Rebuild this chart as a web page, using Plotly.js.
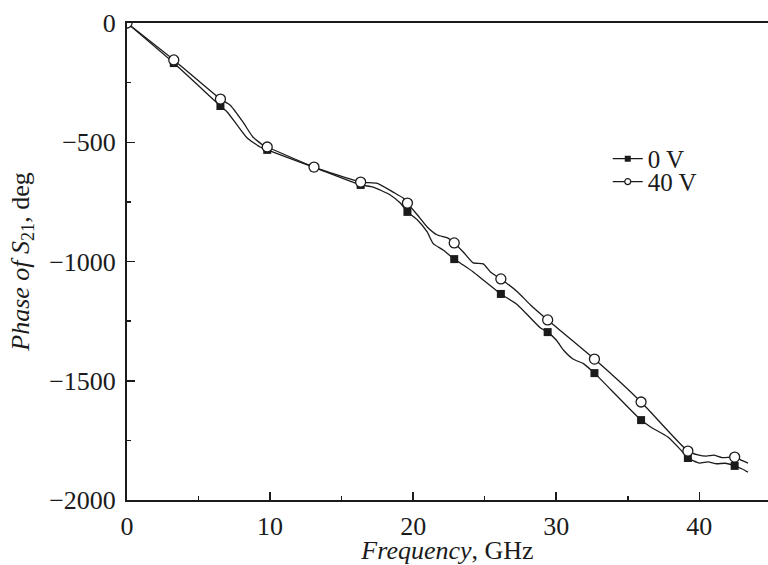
<!DOCTYPE html>
<html>
<head>
<meta charset="utf-8">
<script src="https://cdn.plot.ly/plotly-3.0.1.min.js"></script>
<style>html,body{margin:0;padding:0;background:#fff;}#chart{width:768px;height:565px;}</style>
</head>
<body>
<div id="chart"></div>
<script>
// Line samples (frequency GHz, phase deg)
const freq0V = [0, 3.27, 6.53, 7.0, 7.7, 8.4, 9.3, 9.8, 13.07, 16.33, 17.2, 18.4, 19.1, 19.6, 20.3, 20.98, 21.4, 22.1, 22.87, 23.5, 24.2, 24.9, 25.6, 26.13, 27.3, 28.2, 28.9, 29.4, 30.0, 30.5, 31.2, 31.9, 32.67, 35.93, 36.6, 37.8, 38.7, 39.2, 40.0, 40.6, 41.2, 41.8, 42.47, 43.0, 43.4];
const phase0V = [0, -168, -348, -373, -428, -482, -520, -532, -605, -679, -688, -721, -755, -792, -826, -876, -925, -952, -990, -1015, -1044, -1078, -1111, -1136, -1182, -1237, -1279, -1296, -1329, -1371, -1410, -1428, -1468, -1665, -1694, -1736, -1790, -1824, -1845, -1840, -1848, -1846, -1857, -1870, -1883];
const freq40V = [0, 3.27, 6.53, 7.2, 8.1, 8.8, 9.5, 9.8, 13.07, 16.33, 17.5, 18.6, 19.3, 19.6, 20.3, 20.98, 21.7, 22.4, 22.87, 23.5, 24.2, 24.9, 25.4, 26.13, 27.3, 28.2, 29.4, 32.67, 35.93, 39.2, 39.9, 40.5, 41.0, 41.6, 42.47, 43.0, 43.4];
const phase40V = [0, -155, -319, -344, -415, -478, -512, -520, -604, -667, -672, -709, -734, -755, -805, -855, -889, -901, -922, -960, -1006, -1010, -1044, -1073, -1128, -1182, -1245, -1409, -1589, -1795, -1811, -1816, -1812, -1822, -1820, -1835, -1845];
// Marker points
const markFreq = [0, 3.27, 6.53, 9.8, 13.07, 16.33, 19.6, 22.87, 26.13, 29.4, 32.67, 35.93, 39.2, 42.47];
const mark0V = [0, -168, -348, -532, -605, -679, -792, -990, -1136, -1296, -1468, -1665, -1824, -1857];
const mark40V = [0, -155, -319, -520, -604, -667, -755, -922, -1073, -1245, -1409, -1589, -1795, -1820];
const seriesNames = ['0 V', '40 V'];
const xTicks = [0, 10, 20, 30, 40];
const yTicks = [0, -500, -1000, -1500, -2000];

const ink = '#1b1b1b';
const serif = 'Liberation Serif, Times New Roman, serif';

const traces = [
  {x: freq0V, y: phase0V, mode: 'lines', line: {color: ink, width: 1.3, shape: 'spline', smoothing: 0.5}, showlegend: false, hoverinfo: 'skip'},
  {x: freq40V, y: phase40V, mode: 'lines', line: {color: ink, width: 1.3, shape: 'spline', smoothing: 0.5}, showlegend: false, hoverinfo: 'skip'},
  {x: markFreq, y: mark0V, mode: 'markers', marker: {symbol: 'square', size: 8, color: ink}, showlegend: false},
  {x: markFreq, y: mark40V, mode: 'markers', marker: {symbol: 'circle', size: 10, color: '#fff', line: {color: ink, width: 1.3}}, showlegend: false},
  {x: [null], y: [null], name: seriesNames[0], legend: 'legend', mode: 'lines+markers', line: {color: ink, width: 1.3}, marker: {symbol: 'square', size: 6, color: ink}},
  {x: [null], y: [null], name: seriesNames[1], legend: 'legend2', mode: 'lines+markers', line: {color: ink, width: 1.3}, marker: {symbol: 'circle', size: 6, color: '#fff', line: {color: ink, width: 1.2}}}
];

const legendBase = {xanchor: 'left', yanchor: 'middle', bgcolor: 'rgba(0,0,0,0)', borderwidth: 0, font: {family: serif, size: 25, color: ink}, itemwidth: 30};

const layout = {
  width: 768, height: 565,
  margin: {l: 127, r: 0, t: 23, b: 65, pad: 0},
  paper_bgcolor: '#fff', plot_bgcolor: '#fff',
  font: {family: serif, size: 26, color: ink},
  showlegend: true,
  legend: Object.assign({x: 0.750, y: 0.715}, legendBase),
  legend2: Object.assign({x: 0.750, y: 0.667}, legendBase),
  xaxis: {
    range: [0, 44.8], showgrid: false, zeroline: false,
    showline: true, linecolor: ink, linewidth: 2, mirror: true,
    ticks: 'inside', ticklen: 8, tickwidth: 1.5, tickcolor: ink,
    tickvals: xTicks, ticktext: xTicks.map(String),
    minor: {ticks: 'inside', dtick: 5, tick0: 0, ticklen: 4, tickwidth: 1.5, tickcolor: ink},
    tickfont: {family: serif, size: 26, color: ink},
    ticklabelstandoff: 2,
    title: {text: '<i>Frequency</i>, GHz', font: {family: serif, size: 26, color: ink}, standoff: 6}
  },
  yaxis: {
    range: [-2000, 0], showgrid: false, zeroline: false,
    showline: true, linecolor: ink, linewidth: 2, mirror: false,
    ticks: 'inside', ticklen: 8, tickwidth: 1.5, tickcolor: ink,
    tickvals: yTicks, ticktext: yTicks.map(v => v < 0 ? '\u2212' + Math.abs(v) : String(v)),
    minor: {ticks: 'inside', dtick: 250, tick0: 0, ticklen: 4, tickwidth: 1.5, tickcolor: ink},
    tickfont: {family: serif, size: 26, color: ink},
    ticklabelstandoff: 4,
    title: {text: '<i>Phase of S</i><sub>21</sub>, deg', font: {family: serif, size: 26, color: ink}, standoff: 12}
  }
};

Plotly.newPlot('chart', traces, layout, {staticPlot: true, displayModeBar: false});
</script>
</body>
</html>
